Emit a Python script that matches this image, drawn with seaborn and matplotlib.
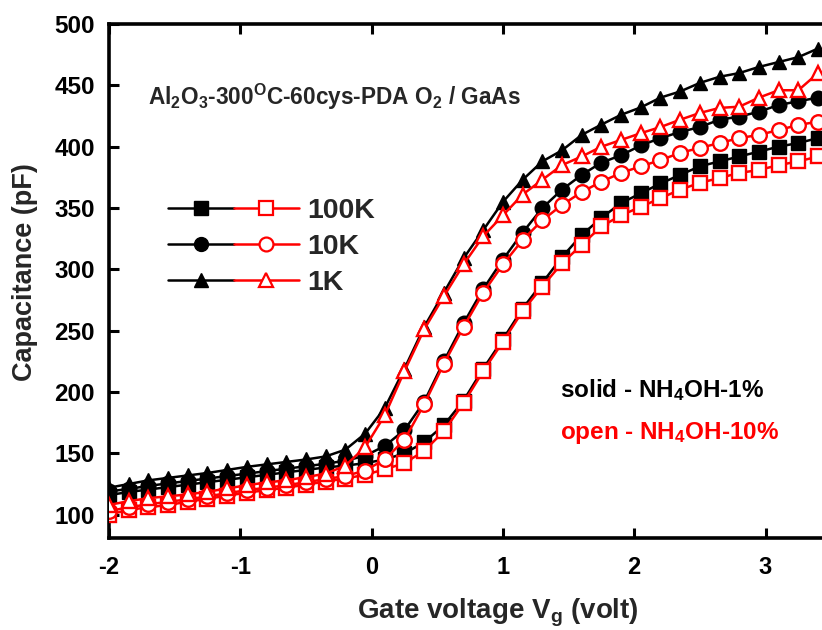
import numpy as np
import pandas as pd
import matplotlib
matplotlib.use("Agg")
import matplotlib.pyplot as plt
import seaborn as sns
from matplotlib.lines import Line2D
from matplotlib.legend_handler import HandlerTuple

# ---------------- data ----------------
voltage = [-2.0, -1.85, -1.7, -1.55, -1.4, -1.25, -1.1, -0.95, -0.8, -0.65, -0.5, -0.35,
           -0.2, -0.05, 0.1, 0.25, 0.4, 0.55, 0.7, 0.85, 1.0, 1.15, 1.3, 1.45, 1.6, 1.75,
           1.9, 2.05, 2.2, 2.35, 2.5, 2.65, 2.8, 2.95, 3.1, 3.25, 3.4]

# solid - NH4OH-1%
solid_100K = [116, 118.5, 120.5, 122.5, 124.5, 126.5, 128.5, 130.5, 132.5, 134.5, 136.5, 138.5,
              140, 142, 145, 150, 159, 173, 193, 219, 243, 268, 289, 310, 328, 342,
              354, 362, 370, 377, 384, 388, 392, 396, 400, 403, 407]
solid_10K = [119, 121, 123.5, 125.5, 127.5, 129.5, 131.5, 133.5, 135.5, 137.5, 139.5, 141.5,
             144, 148, 156, 169, 192, 225, 256, 284, 308, 330, 350, 365, 377, 387,
             393, 401, 407, 412, 416, 422, 424.5, 428.5, 434, 437, 440]
solid_1K = [122, 125, 128, 130, 132, 134, 136.5, 139, 141, 143, 145, 147.5,
            153, 166, 187, 219, 253, 281, 309, 332, 355, 373, 388, 397, 409.6, 418,
            426, 432, 440, 445, 452, 457, 460, 465, 469, 473, 480]

# open - NH4OH-10%
open_100K = [100, 104, 106, 108, 110.5, 113, 115.5, 118, 120, 122, 124.5, 127,
             129.5, 132.5, 137, 142, 152, 168, 191, 217, 241, 266, 286, 305, 320, 335,
             344, 351, 358, 365, 370.5, 374.5, 378.6, 381, 385, 388, 392]
open_10K = [103, 106, 108.5, 110.5, 112.5, 115, 117.5, 120, 122, 124, 126.5, 129,
            131.5, 136, 145, 161, 190, 223, 253, 281, 304, 324, 340, 352.5, 363, 371.5,
            378.6, 384, 389, 395, 399, 403, 407, 409.6, 413.6, 417.7, 420.4]
open_1K = [108, 111, 113.5, 115, 116.5, 118.7, 121.4, 124, 126.3, 128, 130.7, 133.4,
           140, 155, 181, 217, 251, 278, 304, 327, 344, 361, 373, 385, 392, 400,
           405.5, 411, 416, 422, 427.5, 431.6, 432.6, 440, 446, 446, 460]

frequencies = ["100K", "10K", "1K"]
markers = ["s", "o", "^"]
x_ticks = [-2, -1, 0, 1, 2, 3]
y_ticks = [100, 150, 200, 250, 300, 350, 400, 450, 500]

# ---------------- style ----------------
sns.set_theme(style="ticks")

MAIN = "Liberation Sans"
plt.rcParams["font.family"] = [MAIN, "DejaVu Sans"]
plt.rcParams["font.weight"] = "bold"
plt.rcParams["mathtext.fontset"] = "custom"
plt.rcParams["mathtext.rm"] = "Liberation Sans:bold"
plt.rcParams["mathtext.it"] = "Liberation Sans:bold"
plt.rcParams["mathtext.bf"] = "Liberation Sans:bold"
plt.rcParams["mathtext.default"] = "rm"

fig = plt.figure(figsize=(8.22, 6.30), dpi=100)
fig.patch.set_facecolor("white")
ax = fig.add_axes([109 / 822, 92 / 630, 1 - 109 / 822, 514 / 630])
ax.set_facecolor("white")

solid = [solid_100K, solid_10K, solid_1K]
opens = [open_100K, open_10K, open_1K]

ms = 10.5
lw = 1.8
for vals, m in zip(solid, markers):
    sns.lineplot(x=voltage, y=vals, ax=ax, color="black", linewidth=lw, marker=m,
                 markersize=ms, markerfacecolor="black", markeredgecolor="black",
                 markeredgewidth=1.0, zorder=2, legend=False)
for vals, m in zip(opens, markers):
    sns.lineplot(x=voltage, y=vals, ax=ax, color="red", linewidth=lw, marker=m,
                 markersize=ms, markerfacecolor="white", markeredgecolor="red",
                 markeredgewidth=1.7, zorder=3, legend=False)

ax.set_xlim(-2.0, 3.43)
ax.set_ylim(81, 500)
ax.set_xticks(x_ticks)
ax.set_yticks(y_ticks)
ax.set_xticklabels([str(t) for t in x_ticks], fontsize=17, fontweight="bold")
ax.set_yticklabels([str(t) for t in y_ticks], fontsize=17.5, fontweight="bold")
ax.tick_params(axis="both", direction="in", length=7, width=2.2, colors="black",
               top=True, right=False)
ax.tick_params(axis="x", pad=13)
ax.tick_params(axis="y", pad=10)
for side in ["left", "bottom", "top"]:
    ax.spines[side].set_linewidth(2.6)
    ax.spines[side].set_color("black")
ax.spines["right"].set_visible(False)
ax.grid(False)

ax.set_xlabel(r"Gate voltage V$_\mathregular{g}$ (volt)", fontsize=20, fontweight="bold")
ax.xaxis.set_label_coords(0.545, -0.115)
ax.set_ylabel("Capacitance (pF)", fontsize=19.5, fontweight="bold")
ax.yaxis.set_label_coords(-0.1, 0.517)

ax.text(0.055, 0.858, r"Al$_\mathregular{2}$O$_\mathregular{3}$-300$^\mathregular{O}$C-60cys-PDA O$_\mathregular{2}$ / GaAs",
        transform=ax.transAxes, fontsize=16.3, fontweight="bold", va="center", ha="left")
ax.text(0.633, 0.287, r"solid - NH$_\mathregular{4}$OH-1%", transform=ax.transAxes,
        fontsize=17.5, fontweight="bold", color="black", va="center", ha="left")
ax.text(0.633, 0.205, r"open - NH$_\mathregular{4}$OH-10%", transform=ax.transAxes,
        fontsize=17.5, fontweight="bold", color="red", va="center", ha="left")

handles = []
for m in markers:
    hb = Line2D([], [], color="black", linewidth=lw, marker=m, markersize=ms - 0.5,
                markerfacecolor="black", markeredgecolor="black")
    hr = Line2D([], [], color="red", linewidth=lw, marker=m, markersize=ms - 0.5,
                markerfacecolor="white", markeredgecolor="red", markeredgewidth=1.6)
    handles.append((hb, hr))
leg = ax.legend(handles, frequencies, handler_map={tuple: HandlerTuple(ndivide=None, pad=0.0)},
                loc="upper left", bbox_to_anchor=(0.083, 0.662), frameon=False,
                fontsize=20.5, handlelength=4.6, handletextpad=0.3, labelspacing=0.36,
                borderpad=0.0, borderaxespad=0.0)
for t in leg.get_texts():
    t.set_fontweight("bold")

fig.savefig("out.png", dpi=100, facecolor="white")
